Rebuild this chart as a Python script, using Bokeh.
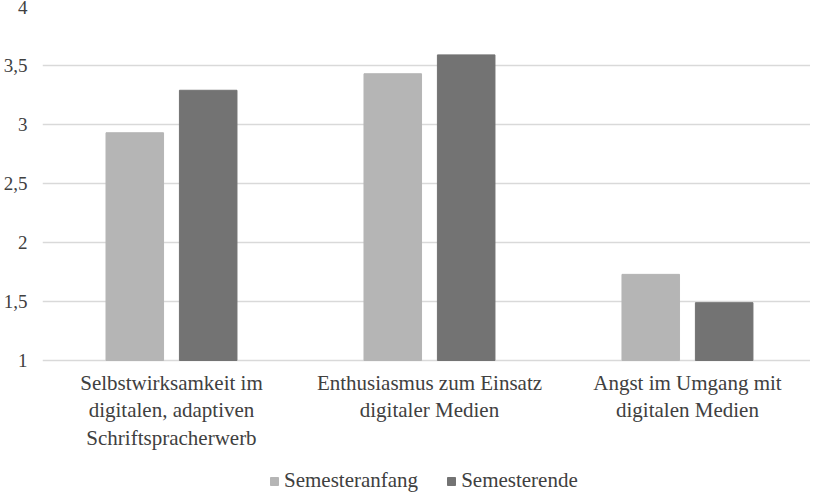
import numpy as np
from bokeh.plotting import figure
from bokeh.models import ColumnDataSource, FixedTicker, Legend, LegendItem, Range1d
from bokeh.core.properties import value
from bokeh.embed import file_html
from bokeh.resources import INLINE

categories = ["Selbstwirksamkeit im\ndigitalen, adaptiven\nSchriftspracherwerb",
              "Enthusiasmus zum Einsatz\ndigitaler Medien",
              "Angst im Umgang mit\ndigitalen Medien"]
semesteranfang = [2.93, 3.43, 1.73]
semesterende = [3.29, 3.59, 1.49]
y_ticks = [1, 1.5, 2, 2.5, 3, 3.5, 4]
y_tick_labels = ["1", "1,5", "2", "2,5", "3", "3,5", "4"]
series_names = ["Semesteranfang", "Semesterende"]

FONT = "'Liberation Serif', 'Times New Roman', serif"
TXT = "#404040"
LIGHT = "#b5b5b5"
DARK = "#737373"
GRID = "#d9d9d9"

xpos = np.arange(len(categories))
offset = 37 / 260
bw = 58 / 260
base = y_ticks[0]

src = ColumnDataSource(dict(
    x=xpos, x1=xpos - offset, x2=xpos + offset,
    a=semesteranfang, e=semesterende,
    lab=categories, base=[base] * len(categories),
))

# frame spans the whole height below the top tick; 118 px per unit
p = figure(width=810, height=495, output_backend="svg", toolbar_location=None,
           x_range=Range1d(-0.5, -0.5 + 774 / 260),
           y_range=Range1d(4 - 489 / 118, 4),
           min_border_left=36, min_border_right=0, min_border_top=6,
           min_border_bottom=0, x_axis_location=None)
p.outline_line_color = None
p.background_fill_color = "white"
p.border_fill_color = "white"

r1 = p.vbar(x="x1", top="a", bottom=base, width=bw, source=src,
            fill_color=LIGHT, line_color=LIGHT)
r2 = p.vbar(x="x2", top="e", bottom=base, width=bw, source=src,
            fill_color=DARK, line_color=DARK)

# grid (the line at 1 doubles as the category axis line)
p.xgrid.visible = False
p.ygrid.grid_line_color = GRID
p.ygrid.grid_line_width = 1.5
p.ygrid.ticker = FixedTicker(ticks=y_ticks)

# y axis
p.yaxis.ticker = FixedTicker(ticks=y_ticks)
p.yaxis.major_label_overrides = {t: l for t, l in zip(y_ticks, y_tick_labels)}
p.yaxis.axis_line_color = None
p.yaxis.major_tick_line_color = None
p.yaxis.minor_tick_line_color = None
p.yaxis.major_label_standoff = 9
p.yaxis.major_label_text_font = FONT
p.yaxis.major_label_text_font_size = "19px"
p.yaxis.major_label_text_color = TXT

# category labels under the baseline
p.text(x="x", y="base", text="lab", source=src, y_offset=10,
       text_align="center", text_baseline="top",
       text_font=value(FONT), text_font_size="21px",
       text_color=TXT, text_line_height=1.15)

legend = Legend(items=[LegendItem(label=series_names[0], renderers=[r1]),
                       LegendItem(label=series_names[1], renderers=[r2])],
                orientation="horizontal", location=(227, 2),
                padding=0, margin=0, spacing=28,
                glyph_width=10, glyph_height=10, label_standoff=5,
                label_height=20,
                label_text_font=FONT, label_text_font_size="21px",
                label_text_color=TXT, border_line_color=None,
                background_fill_alpha=0)
p.add_layout(legend)

open("out.html", "w").write(file_html(p, INLINE))
